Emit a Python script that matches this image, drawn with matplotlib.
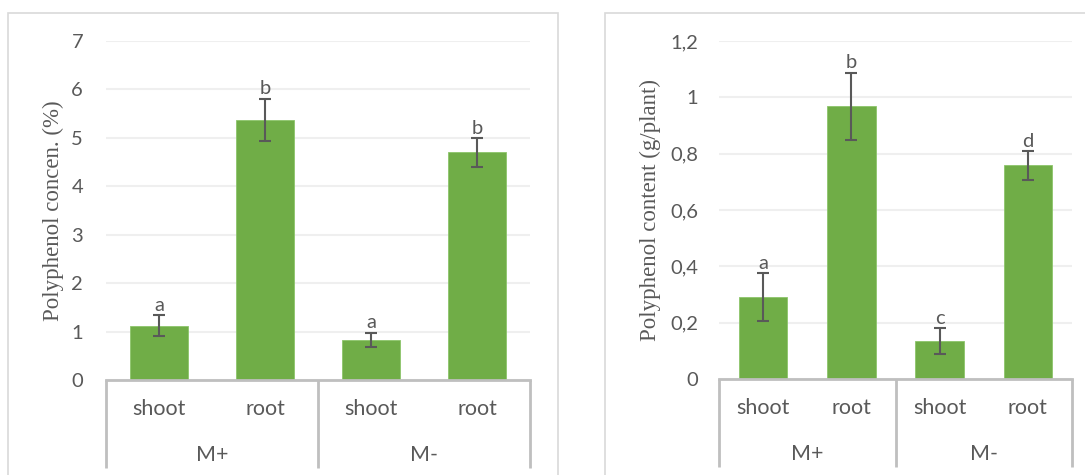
import matplotlib
matplotlib.use("Agg")
import matplotlib.pyplot as plt
from matplotlib.patches import Rectangle
from matplotlib.ticker import FuncFormatter

# data
tissues = ["shoot", "root", "shoot", "root"]
groups = ["M+", "M-"]

conc = [1.12, 5.37, 0.83, 4.70]
conc_err = [0.22, 0.44, 0.15, 0.30]
conc_letters = ["a", "b", "a", "b"]

content = [0.29, 0.968, 0.135, 0.758]
content_err = [0.085, 0.12, 0.045, 0.05]
content_letters = ["a", "b", "c", "d"]

W, H = 1085, 475
GREEN = "#70AD47"
DARK = "#595959"
LINE = "#BFBFBF"
GRID = "#EFEFEF"
FONT = "Lato"


def fx(px):
    return px / W


def fy(py):
    return 1 - py / H


fig = plt.figure(figsize=(W / 100, H / 100), dpi=100)

# chart area borders (Excel style)
fig.patches.append(Rectangle((fx(8), fy(480)), fx(558) - fx(8), fy(13) - fy(480),
                             transform=fig.transFigure, fill=False,
                             edgecolor="#D9D9D9", lw=1.2))
fig.patches.append(Rectangle((fx(605), fy(480)), fx(1090) - fx(605), fy(13) - fy(480),
                             transform=fig.transFigure, fill=False,
                             edgecolor="#D9D9D9", lw=1.2))


def draw_panel(rect_px, values, errs, letters, ymax, ystep, ylabel, pad, label_x):
    x0, x1, ytop, ybot = rect_px
    ax = fig.add_axes([fx(x0), fy(ybot), (x1 - x0) / W, (ybot - ytop) / H])
    h_px = ybot - ytop
    xs = list(range(len(values)))
    ax.bar(xs, values, width=0.55, color=GREEN, edgecolor="#8CC56A", lw=0.6, zorder=2)
    ax.errorbar(xs, values, yerr=errs, fmt="none", ecolor=DARK, elinewidth=1.5,
                capsize=4, capthick=1.5, zorder=3)
    for x, v, e, lt in zip(xs, values, errs, letters):
        ax.annotate(lt, (x, v + e), xytext=(0, 3), textcoords="offset points",
                    ha="center", va="baseline", fontsize=14.5, color=DARK,
                    family=FONT)

    ax.set_xlim(-0.5, len(values) - 0.5)
    ax.set_ylim(0, ymax)
    ticks = [i * ystep for i in range(int(round(ymax / ystep)) + 1)]
    ax.set_yticks(ticks)
    ax.yaxis.set_major_formatter(FuncFormatter(lambda v, p: f"{v:g}".replace(".", ",")))
    ax.grid(axis="y", color=GRID, lw=1.5, zorder=0)
    ax.set_axisbelow(True)
    ax.tick_params(axis="y", length=0, pad=pad, labelsize=14.5, labelcolor=DARK)
    ax.tick_params(axis="x", length=0, labelbottom=False)
    for lab in ax.get_yticklabels():
        lab.set_family(FONT)
    for s in ["top", "right", "left"]:
        ax.spines[s].set_visible(False)
    ax.spines["bottom"].set_color(LINE)
    ax.spines["bottom"].set_linewidth(2)

    ax.set_ylabel(ylabel, family="Liberation Serif", fontsize=16.5, color=DARK)
    ax.yaxis.set_label_coords((label_x - x0) / (x1 - x0), 0.5)

    # two-level category axis
    tr = ax.get_xaxis_transform()
    row1 = -(29 / h_px)
    row2 = -(75 / h_px)
    bottom = -(88 / h_px)
    for x, t in zip(xs, tissues):
        ax.text(x, row1, t, transform=tr, ha="center", va="center",
                fontsize=15.5, color=DARK, family=FONT)
    for i, g in enumerate(groups):
        ax.text(2 * i + 0.5, row2, g, transform=tr, ha="center", va="center",
                fontsize=15.5, color=DARK, family=FONT)
    for xb in [-0.5, 1.5, 3.5]:
        ax.plot([xb, xb], [0, bottom], transform=tr, color=LINE, lw=2,
                clip_on=False, solid_capstyle="butt")
    return ax


draw_panel((106, 530, 41, 380), conc, conc_err, conc_letters, 7, 1,
           "Polyphenol concen. (%)", 16.5, 64)
draw_panel((719, 1072, 41, 379), content, content_err, content_letters, 1.2, 0.2,
           "Polyphenol content (g/plant)", 15, 661)

fig.savefig("out.png", dpi=100)
